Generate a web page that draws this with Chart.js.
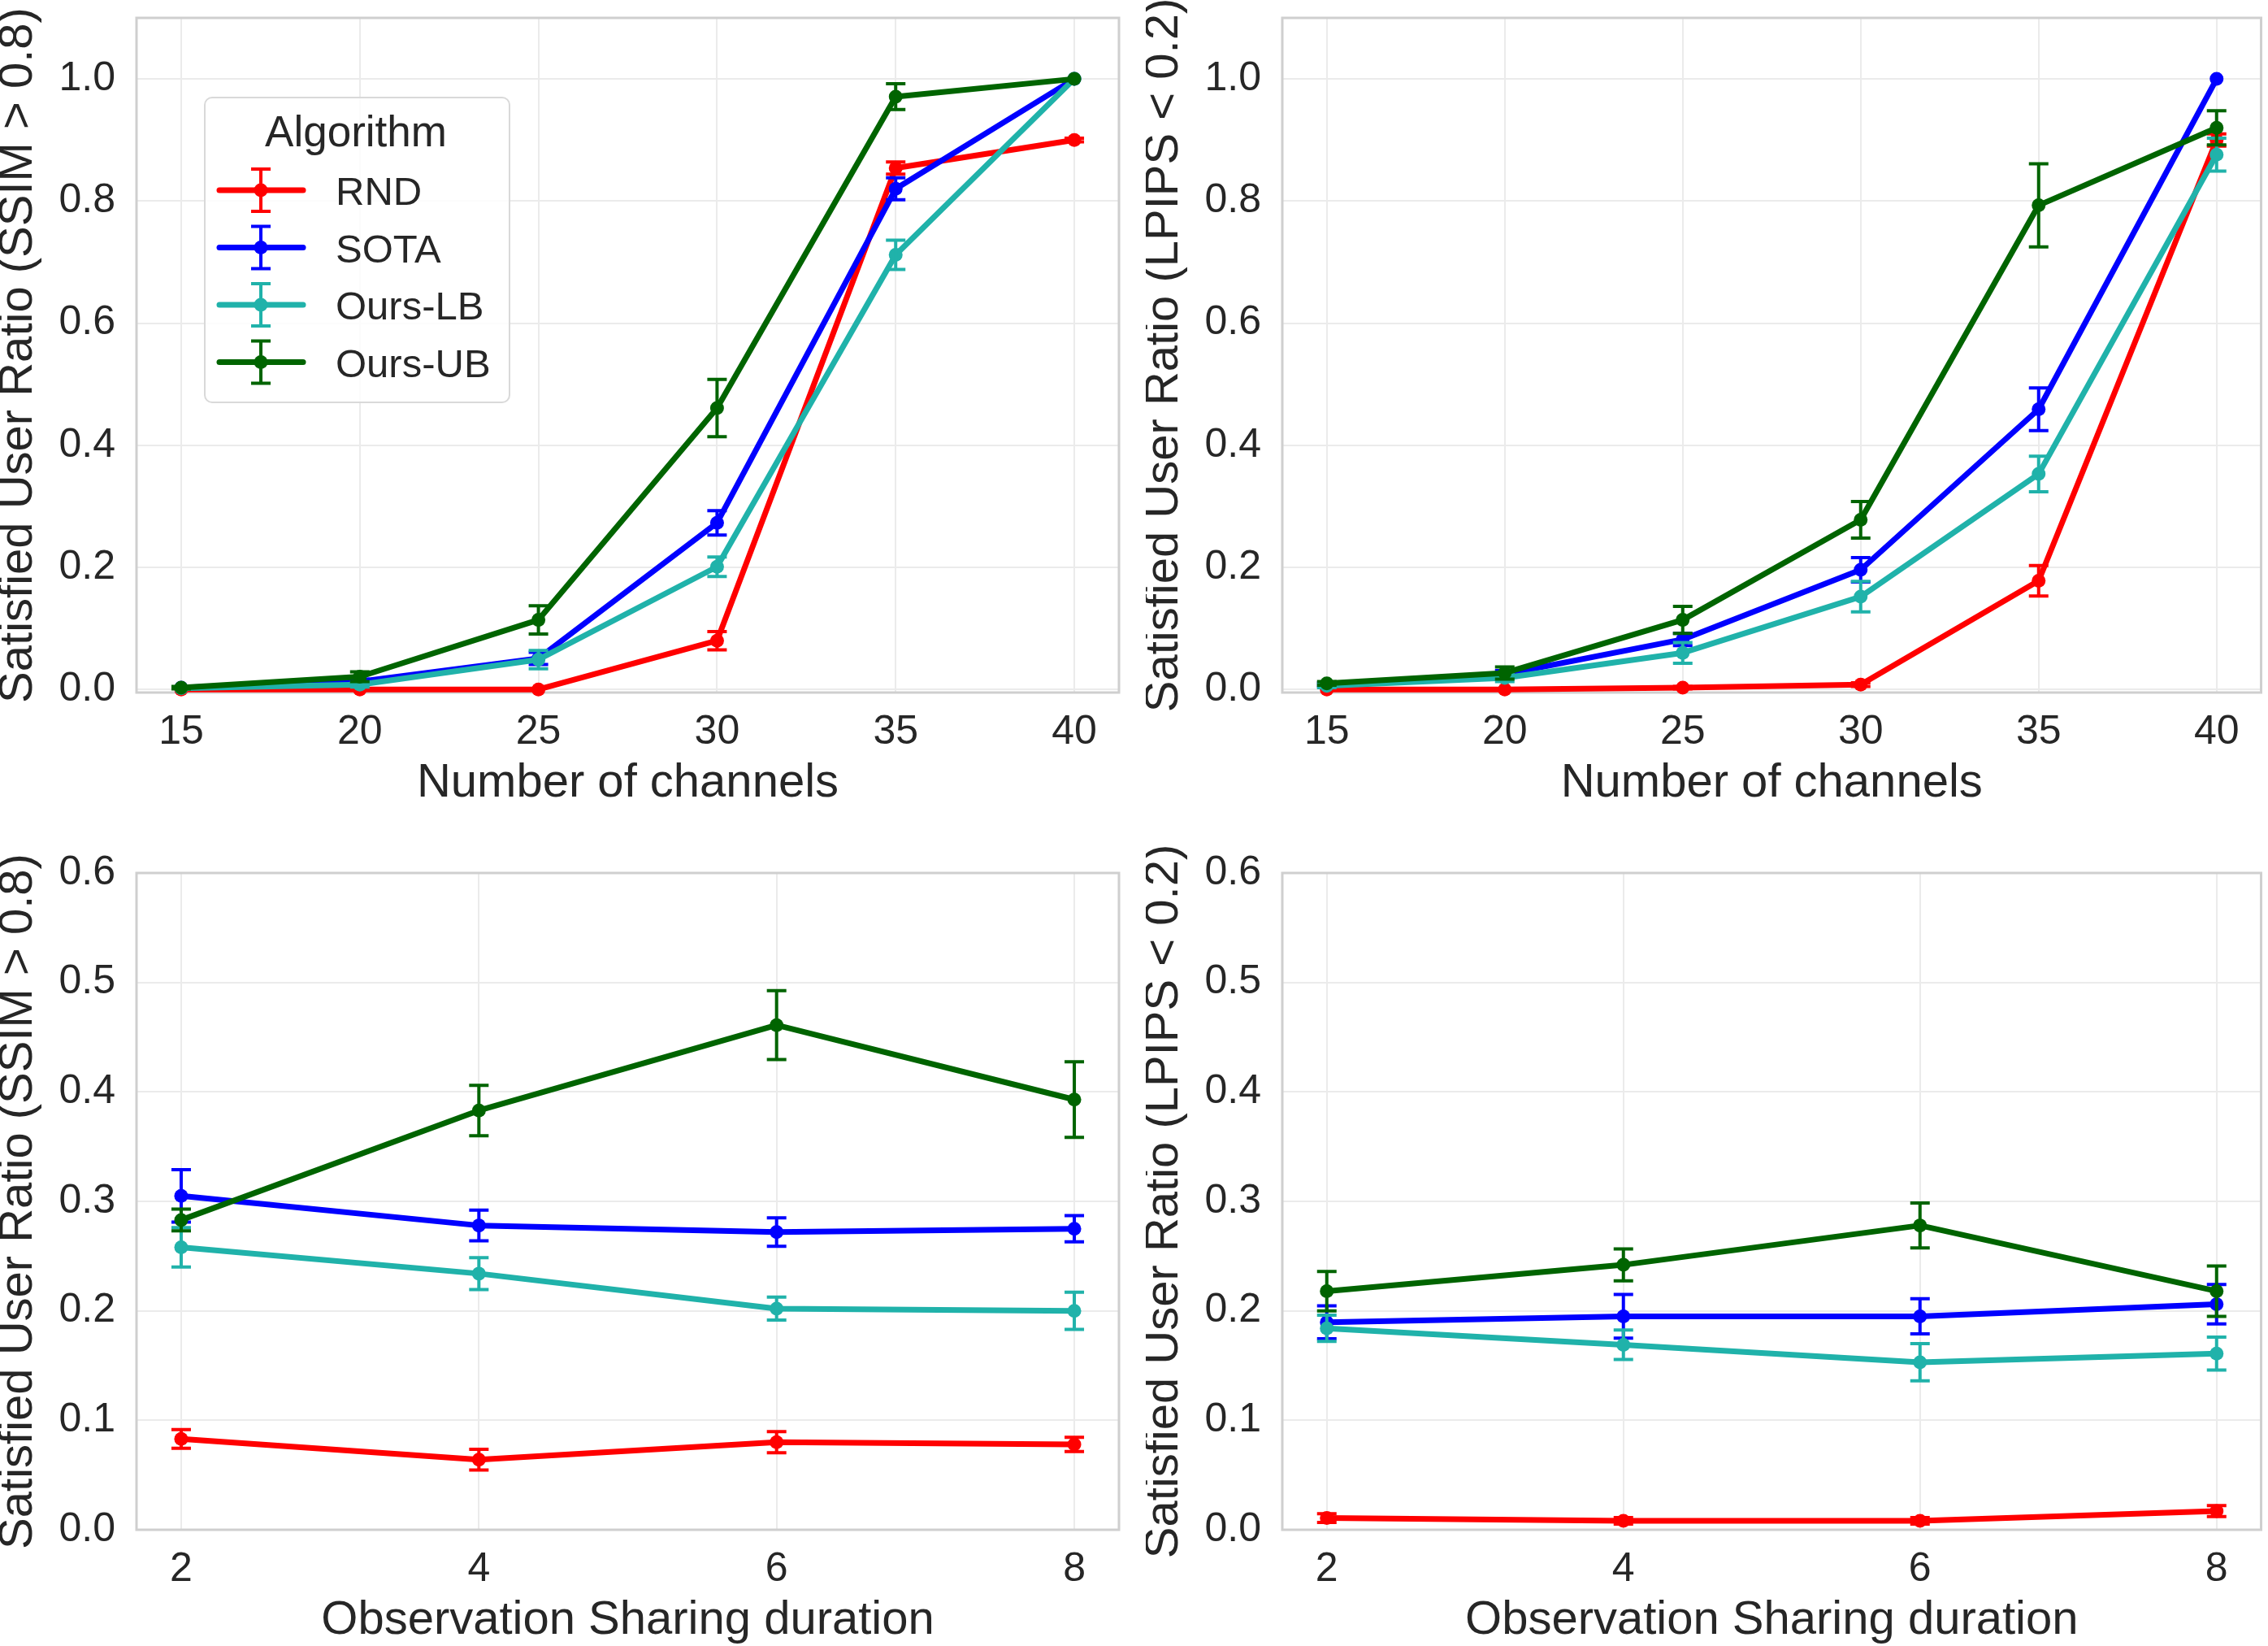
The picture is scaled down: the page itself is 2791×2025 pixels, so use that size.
<!DOCTYPE html>
<html><head><meta charset="utf-8">
<script src="https://cdn.jsdelivr.net/npm/chart.js@4.4.1/dist/chart.umd.min.js"></script>
<style>
html,body{margin:0;padding:0;background:#fff;width:2791px;height:2025px;overflow:hidden;position:relative}
canvas{position:absolute}
</style></head><body>
<canvas id="c1" width="1400" height="995" style="left:0px;top:0px"></canvas>
<canvas id="c2" width="1381" height="995" style="left:1410px;top:0px"></canvas>
<canvas id="c3" width="1400" height="1025" style="left:0px;top:1000px"></canvas>
<canvas id="c4" width="1381" height="1025" style="left:1410px;top:1000px"></canvas>
<script>
// ---------------- DATA ----------------
const seriesNames = ['RND', 'SOTA', 'Ours-LB', 'Ours-UB'];
const seriesColors = ['#ff0000', '#0000ff', '#20b2aa', '#006400'];
const channels = [15, 20, 25, 30, 35, 40];
const durations = [2, 4, 6, 8];
const yTicksTop = [0, 0.2, 0.4, 0.6, 0.8, 1.0];
const yTicksBottom = [0, 0.1, 0.2, 0.3, 0.4, 0.5, 0.6];
const xLabelTop = 'Number of channels';
const xLabelBottom = 'Observation Sharing duration';
const yLabelSSIM = 'Satisfied User Ratio (SSIM > 0.8)';
const yLabelLPIPS = 'Satisfied User Ratio (LPIPS < 0.2)';
const legendTitle = 'Algorithm';

// SSIM vs number of channels
const ssimChRND  = [0.000, 0.000, 0.000, 0.080, 0.854, 0.900];
const ssimChSOTA = [0.003, 0.013, 0.051, 0.273, 0.820, 1.000];
const ssimChLB   = [0.002, 0.008, 0.049, 0.201, 0.712, 1.000];
const ssimChUB   = [0.003, 0.021, 0.114, 0.461, 0.971, 1.000];
const ssimChRNDErr  = [0, 0, 0, 0.015, 0.010, 0.003];
const ssimChSOTAErr = [0, 0.004, 0.010, 0.020, 0.018, 0];
const ssimChLBErr   = [0, 0.004, 0.015, 0.016, 0.024, 0];
const ssimChUBErr   = [0.002, 0.008, 0.023, 0.047, 0.021, 0];

// LPIPS vs number of channels
const lpipsChRND  = [0.000, 0.000, 0.003, 0.008, 0.178, 0.900];
const lpipsChSOTA = [0.008, 0.025, 0.082, 0.196, 0.459, 1.000];
const lpipsChLB   = [0.006, 0.019, 0.060, 0.152, 0.353, 0.876];
const lpipsChUB   = [0.010, 0.027, 0.114, 0.278, 0.793, 0.920];
const lpipsChRNDErr  = [0, 0, 0.002, 0.003, 0.025, 0.010];
const lpipsChSOTAErr = [0.003, 0.006, 0.010, 0.020, 0.035, 0];
const lpipsChLBErr   = [0.003, 0.006, 0.017, 0.025, 0.029, 0.027];
const lpipsChUBErr   = [0.003, 0.010, 0.022, 0.030, 0.068, 0.028];

// SSIM vs observation sharing duration
const ssimDurRND  = [0.083, 0.064, 0.080, 0.078];
const ssimDurSOTA = [0.305, 0.278, 0.272, 0.275];
const ssimDurLB   = [0.258, 0.234, 0.202, 0.200];
const ssimDurUB   = [0.283, 0.383, 0.461, 0.393];
const ssimDurRNDErr  = [0.0085, 0.0095, 0.0097, 0.0065];
const ssimDurSOTAErr = [0.024, 0.014, 0.013, 0.012];
const ssimDurLBErr   = [0.018, 0.0145, 0.0105, 0.017];
const ssimDurUBErr   = [0.010, 0.023, 0.0315, 0.0345];

// LPIPS vs observation sharing duration
const lpipsDurRND  = [0.0107, 0.0082, 0.0082, 0.017];
const lpipsDurSOTA = [0.1895, 0.195, 0.195, 0.206];
const lpipsDurLB   = [0.184, 0.169, 0.153, 0.161];
const lpipsDurUB   = [0.218, 0.242, 0.278, 0.218];
const lpipsDurRNDErr  = [0.004, 0.003, 0.003, 0.005];
const lpipsDurSOTAErr = [0.015, 0.020, 0.016, 0.018];
const lpipsDurLBErr   = [0.012, 0.0135, 0.017, 0.015];
const lpipsDurUBErr   = [0.018, 0.0145, 0.0205, 0.023];

// ---------------- STYLE ----------------
const FONT = "'Liberation Sans', Arial, Helvetica, sans-serif";
const TXT = '#262626';
Chart.defaults.font.family = FONT;
Chart.defaults.color = TXT;

const framePlugin = {
  id: 'frame',
  beforeDatasetsDraw(chart) {
    const a = chart.chartArea, ctx = chart.ctx;
    ctx.save();
    ctx.strokeStyle = '#cfcfcf';
    ctx.lineWidth = 3;
    ctx.strokeRect(a.left, a.top, a.right - a.left, a.bottom - a.top);
    ctx.restore();
  }
};

const errPlugin = {
  id: 'errbars',
  afterDatasetDraw(chart, args) {
    const ds = chart.data.datasets[args.index];
    const meta = args.meta;
    const ys = chart.scales.y;
    const ctx = chart.ctx;
    ctx.save();
    ctx.strokeStyle = ds.borderColor;
    ctx.lineWidth = 4;
    ctx.lineCap = 'butt';
    ds.data.forEach((pt, i) => {
      const e = ds.errors[i];
      if (!e) return;
      const x = meta.data[i].x;
      const y1 = ys.getPixelForValue(pt.y - e);
      const y2 = ys.getPixelForValue(pt.y + e);
      ctx.beginPath();
      ctx.moveTo(x, y1); ctx.lineTo(x, y2);
      ctx.moveTo(x - 12, y1); ctx.lineTo(x + 12, y1);
      ctx.moveTo(x - 12, y2); ctx.lineTo(x + 12, y2);
      ctx.stroke();
    });
    ctx.restore();
  }
};

const legendPlugin = {
  id: 'customLegend',
  afterDraw(chart) {
    const ctx = chart.ctx;
    ctx.save();
    const bx = 252, by = 120, bw = 375, bh = 375, r = 9;
    ctx.beginPath();
    ctx.moveTo(bx + r, by);
    ctx.arcTo(bx + bw, by, bx + bw, by + bh, r);
    ctx.arcTo(bx + bw, by + bh, bx, by + bh, r);
    ctx.arcTo(bx, by + bh, bx, by, r);
    ctx.arcTo(bx, by, bx + bw, by, r);
    ctx.closePath();
    ctx.fillStyle = 'rgba(255,255,255,0.85)';
    ctx.fill();
    ctx.strokeStyle = '#d9d9d9';
    ctx.lineWidth = 2;
    ctx.stroke();
    ctx.fillStyle = TXT;
    ctx.font = '53px ' + FONT;
    ctx.textAlign = 'center';
    ctx.textBaseline = 'alphabetic';
    ctx.fillText(legendTitle, 438, 180);
    ctx.font = '49px ' + FONT;
    ctx.textAlign = 'left';
    seriesNames.forEach((name, i) => {
      const base = 252 + i * 70.5;
      const cy = base - 18;
      const col = seriesColors[i];
      ctx.strokeStyle = col;
      ctx.lineCap = 'round';
      ctx.lineWidth = 7;
      ctx.beginPath(); ctx.moveTo(270, cy); ctx.lineTo(373, cy); ctx.stroke();
      ctx.lineCap = 'butt';
      ctx.lineWidth = 4;
      ctx.beginPath();
      ctx.moveTo(321, cy - 26); ctx.lineTo(321, cy + 26);
      ctx.moveTo(309, cy - 26); ctx.lineTo(333, cy - 26);
      ctx.moveTo(309, cy + 26); ctx.lineTo(333, cy + 26);
      ctx.stroke();
      ctx.fillStyle = col;
      ctx.beginPath(); ctx.arc(321, cy, 8.5, 0, Math.PI * 2); ctx.fill();
      ctx.fillStyle = TXT;
      ctx.fillText(name, 413, base);
    });
    ctx.restore();
  }
};

function makeDatasets(xs, valueLists, errLists) {
  return valueLists.map((vals, i) => ({
    label: seriesNames[i],
    data: xs.map((x, j) => ({ x: x, y: vals[j] })),
    errors: errLists[i],
    borderColor: seriesColors[i],
    backgroundColor: seriesColors[i],
    pointBackgroundColor: seriesColors[i],
    pointBorderWidth: 0,
    pointRadius: 8.5,
    borderWidth: 7,
    borderCapStyle: 'round',
    borderJoinStyle: 'round',
    tension: 0,
    order: 4 - i,
    clip: false
  }));
}

function makeChart(id, xs, xTicks, xMin, xMax, yTicks, yMin, yMax, xTitle, yTitle, valueLists, errLists, padTop, padRight, withLegend) {
  const plugins = [framePlugin, errPlugin];
  if (withLegend) plugins.push(legendPlugin);
  return new Chart(document.getElementById(id), {
    type: 'line',
    data: { datasets: makeDatasets(xs, valueLists, errLists) },
    plugins: plugins,
    options: {
      responsive: false,
      animation: false,
      events: [],
      layout: { padding: { top: padTop, right: padRight, bottom: 0, left: 0 } },
      plugins: { legend: { display: false }, tooltip: { enabled: false } },
      scales: {
        x: {
          type: 'linear',
          min: xMin, max: xMax,
          afterBuildTicks(s) { s.ticks = xTicks.map(v => ({ value: v })); },
          afterFit(s) { s.height = 143; s.paddingLeft = 0; s.paddingRight = 0; },
          ticks: { autoSkip: false, maxRotation: 0, padding: 19, color: TXT, font: { size: 50 }, callback: v => String(v) },
          grid: { color: '#ebebeb', lineWidth: 2, drawTicks: false },
          border: { display: false },
          title: { display: true, text: xTitle, color: TXT, font: { size: 58, lineHeight: 0.8 }, padding: { top: 0, bottom: 8 } }
        },
        y: {
          type: 'linear',
          min: yMin, max: yMax,
          afterBuildTicks(s) { s.ticks = yTicks.map(v => ({ value: v })); },
          afterFit(s) { s.width = 168; s.paddingTop = 0; s.paddingBottom = 0; },
          ticks: { autoSkip: false, padding: 26, color: TXT, font: { size: 50 }, callback: v => Number(v).toFixed(1) },
          grid: { color: '#ebebeb', lineWidth: 2, drawTicks: false },
          border: { display: false },
          title: { display: true, text: yTitle, color: TXT, font: { size: 58, lineHeight: 0.8 }, padding: 0 }
        }
      }
    }
  });
}

makeChart('c1', channels, channels, 13.75, 41.25, yTicksTop, -0.005, 1.1, xLabelTop, yLabelSSIM,
  [ssimChRND, ssimChSOTA, ssimChLB, ssimChUB],
  [ssimChRNDErr, ssimChSOTAErr, ssimChLBErr, ssimChUBErr], 22, 23, true);
makeChart('c2', channels, channels, 13.75, 41.25, yTicksTop, -0.005, 1.1, xLabelTop, yLabelLPIPS,
  [lpipsChRND, lpipsChSOTA, lpipsChLB, lpipsChUB],
  [lpipsChRNDErr, lpipsChSOTAErr, lpipsChLBErr, lpipsChUBErr], 22, 3, false);
makeChart('c3', durations, durations, 1.7, 8.3, yTicksBottom, 0, 0.6, xLabelBottom, yLabelSSIM,
  [ssimDurRND, ssimDurSOTA, ssimDurLB, ssimDurUB],
  [ssimDurRNDErr, ssimDurSOTAErr, ssimDurLBErr, ssimDurUBErr], 74, 23, false);
makeChart('c4', durations, durations, 1.7, 8.3, yTicksBottom, 0, 0.6, xLabelBottom, yLabelLPIPS,
  [lpipsDurRND, lpipsDurSOTA, lpipsDurLB, lpipsDurUB],
  [lpipsDurRNDErr, lpipsDurSOTAErr, lpipsDurLBErr, lpipsDurUBErr], 74, 3, false);
</script>
</body></html>
